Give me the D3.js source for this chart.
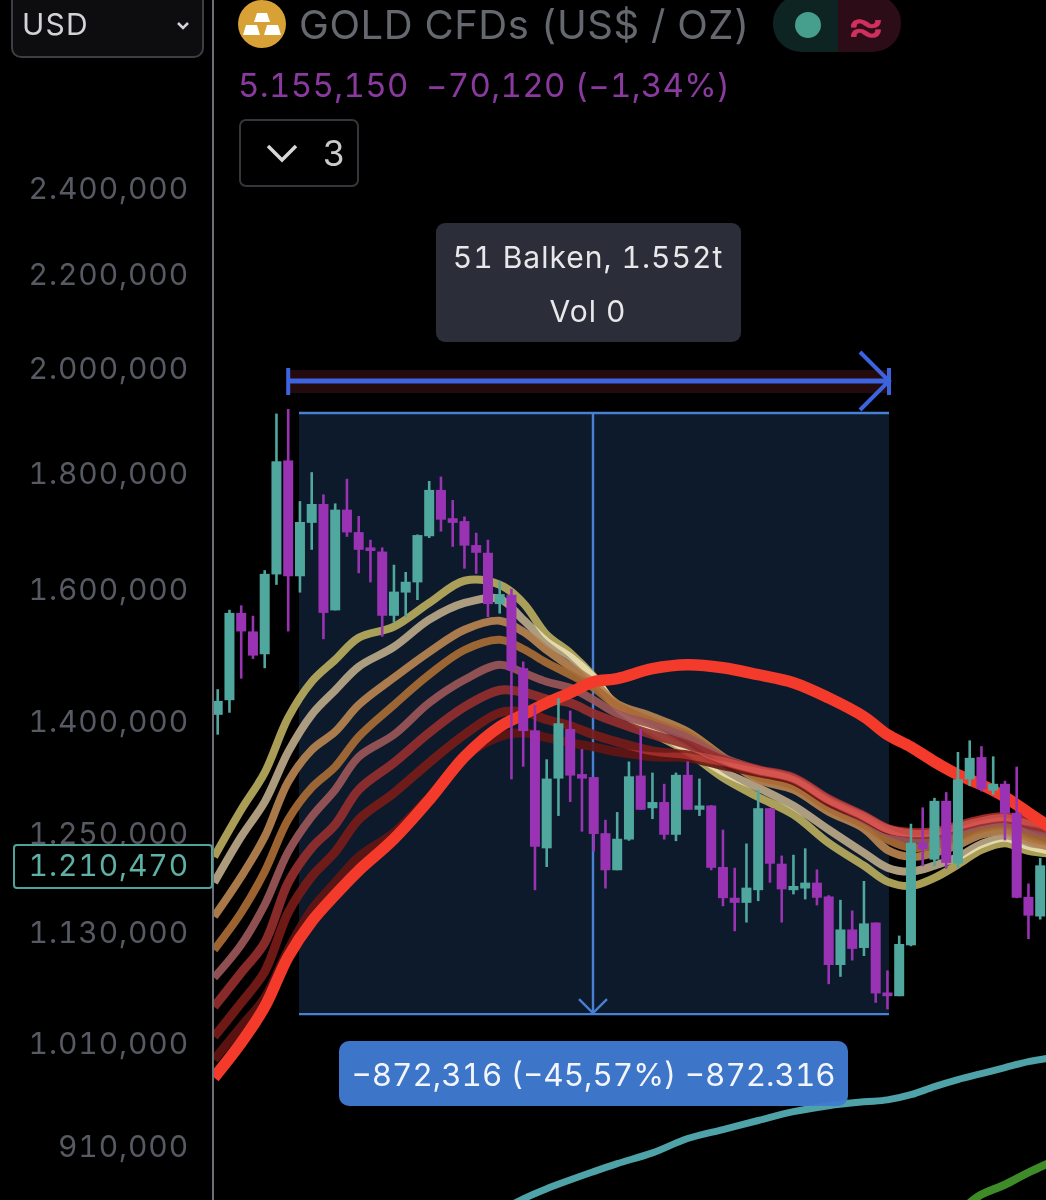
<!DOCTYPE html>
<html><head><meta charset="utf-8">
<script src="https://cdn.jsdelivr.net/npm/d3@7"></script>
<style>
html,body{margin:0;padding:0;background:#000;overflow:hidden}
svg{display:block}
text{font-family:Inter,"Liberation Sans",sans-serif;font-variant-numeric:tabular-nums}
</style></head><body><svg id="c" width="1046" height="1200"></svg>
<script>
// prices in thousands of US$ per "bar"
const tickValues=[2400,2200,2000,1800,1600,1400,1250,1130,1010,910];
const tickLabels=["2.400,000","2.200,000","2.000,000","1.800,000","1.600,000","1.400,000","1.250,000","1.130,000","1.010,000","910,000"];
const opens=[1408,1429,1561,1532,1497,1623,1821.5,1620,1710,1743,1565,1733,1694,1668,1661,1556.5,1593.5,1610,1687,1768,1718,1713,1672,1659,1575,1590,1476,1386,1230,1320,1388,1326,1322,1249,1203,1241,1324,1281,1289,1247,1325,1279,1284.5,1207,1170,1164,1179,1281,1211,1179,1181,1188,1171.5,1093,1133,1112,1141,1063,1059,1115,1237,1216,1290.5,1211,1319,1349,1304,1313,1275,1171,1148];
const closes=[1428,1561,1532,1495,1624,1820,1620,1711.5,1743,1561,1733,1693.5,1664,1662,1556.5,1595,1611,1689,1768,1715.5,1710,1671,1659,1575,1591,1473,1385,1232,1320,1396,1324,1320,1248,1203,1242,1323,1279,1289,1247,1325,1279,1284.5,1206,1169.5,1164,1182,1281,1211,1180,1184,1188,1170,1093,1133,1111,1140,1062,1059,1116.5,1237,1229,1290.5,1212,1319,1348,1306,1313,1274,1170,1149,1209];
const highs=[1445,1566,1573,1556.5,1630,1910,1919,1748,1800,1760,1744,1788,1722,1681,1668,1639,1627,1690,1784,1792,1750,1721,1693,1681,1612,1599.5,1486,1422,1346,1432,1414,1360,1322,1266,1276,1343,1388,1328,1313,1328,1343,1320,1285,1253.5,1206,1236,1305,1281,1221,1222,1230,1204,1173,1167.5,1155,1190,1141,1087,1126,1261,1282,1294.5,1302,1356,1372,1364,1350,1317,1336,1187,1218];
const lows=[1380,1411,1460.5,1490,1476,1606,1532,1593.5,1664,1520,1565,1686,1625,1610,1524,1546,1554.5,1581.5,1684,1695,1669,1632.5,1624,1554.5,1560,1319,1336,1179,1207,1271,1289,1251,1226,1181,1203,1239.5,1279,1267,1241,1239,1279,1271,1203,1160,1131,1141,1166,1188,1141,1174,1168,1161,1072,1080,1098,1103,1052,1045,1059,1114,1208,1208,1205,1206,1310,1303,1298.5,1240,1169.5,1122,1144.5];

const ribbonIndex=[-0.3,2,4,6,8,10,12,15,18,21,24,26,28,30,32,34,37,40,43,46,49,52,55,57,59,61,63,65,67,69,71];
const emaA=[1219.5,1279,1328,1404,1456,1488.7,1522.2,1539.4,1576.8,1612.7,1606.2,1576.8,1526.9,1499,1463.4,1418,1382.8,1356.1,1321.3,1295.6,1272.7,1236.7,1208.6,1189.3,1184,1193.7,1210,1228,1236.5,1226.8,1223.2];
const emaB=[1188.1,1244.6,1289.2,1356.1,1408.2,1443.4,1478.3,1508.2,1550.3,1576.8,1583.1,1550.3,1516,1493.1,1462,1419.4,1387,1358.8,1329.3,1307.9,1284.1,1253.5,1224.4,1206.2,1201.4,1208.6,1219.5,1235.4,1243.3,1232.9,1226.8];
const emaC=[1147.9,1195.3,1244.6,1315.9,1358.8,1384.2,1422.2,1462,1500.5,1534.7,1548.7,1531.6,1503.5,1478.3,1454.5,1423.7,1405.3,1384.2,1349.4,1318.6,1305.2,1276.5,1254.8,1228,1219.5,1224.4,1234,1247.1,1251,1239.5,1230.6];
const emaD=[1109.9,1152.5,1201.4,1266.3,1307.9,1336,1377.2,1422.2,1466.4,1503.5,1519.1,1505,1484.2,1466.4,1447,1420.8,1398.3,1380,1348.1,1322.6,1310.5,1281.5,1259.9,1240.8,1230.6,1234,1243.3,1254.8,1258.6,1247.1,1238.2];
const emaE=[1079.2,1115.7,1161.7,1225.6,1270.1,1305.2,1349.4,1380,1425.1,1458.8,1481.2,1469.4,1456,1447,1429.3,1409.6,1394,1375.9,1348.1,1332,1317.3,1288,1266.3,1249.7,1240.8,1243.3,1251,1259.9,1263.7,1253.5,1245.9];
const emaF=[1047.7,1084.6,1118,1188.1,1230.6,1259.9,1305.2,1341.4,1382.8,1419.4,1443.4,1440.6,1430.7,1425.1,1409.6,1396.9,1380,1365.9,1345.4,1332,1321.3,1293,1271.4,1254.8,1248,1248.4,1256,1263.7,1267.6,1259.9,1253.5];
const emaG=[1016.5,1051.9,1085.7,1152.5,1195.3,1225.6,1266.3,1301,1341.4,1380,1411,1412.4,1401.1,1392.6,1380,1370,1357.5,1352.1,1342.7,1330.7,1320,1291.8,1270.1,1254.8,1250,1251,1258.6,1266.3,1270.1,1263.7,1257.3];
const emaH=[993.1,1026.9,1057.1,1109.9,1156,1188.1,1219.5,1249.7,1295.6,1349.4,1377.2,1382.8,1375.9,1368.7,1363,1356.1,1349.4,1348.1,1337.3,1328,1317.3,1289.2,1268.8,1253.5,1250,1251,1258.6,1266.3,1270.1,1265,1258.6];
const emaSlow=[975.3,1010.3,1047.7,1102.2,1142.2,1173.3,1202.6,1241.8,1291.8,1349.4,1391.2,1408.2,1425.1,1439.7,1456,1460.5,1475.3,1481.2,1476.8,1466.4,1454.5,1432.3,1405.3,1380,1363,1342.7,1325.3,1311.9,1295.6,1275.2,1254.8];
const tealIndex=[25,26,28,32,34,37,40,43,46,49,52,55,57,59,61,63,65,67,69,71];
const tealValues=[857.3,862.6,871.5,886.7,893.9,903.7,916.9,925.3,933.8,942.2,947.9,951.6,953.5,958.5,966.4,973.3,979.2,985.2,991.1,995.1];
const greenIndex=[64,65,67,69,71];
const greenValues=[859.1,866.3,875.1,885.9,895.7];

const warmSeries=[emaA,emaB,emaC,emaD,emaE];
const warmColors=["#b9ab5e","#bba888","#b8834f","#a96b35","#9c5658"];
const redSeries=[emaF,emaG,emaH];
const redColors=["#962f2e","#7a1c18","#631512"];

const measureStart=6.92, measureEnd=57.13, measureTop=1911, measureBottom=1040;

const svg=d3.select("#c");
const x=d3.scaleLinear().domain([0,70]).range([217.7,1040.2]);
const y=d3.scaleLog().domain([2400,910]).range([188,1146]);
const defs=svg.append("defs");
defs.append("clipPath").attr("id","plot").append("rect").attr("x",214).attr("y",0).attr("width",832).attr("height",1200);
const plot=svg.append("g").attr("clip-path","url(#plot)");

// measure band
const mx0=x(measureStart),mx1=x(measureEnd),my0=y(measureTop),my1=y(measureBottom),mid=(mx0+mx1)/2-1;
plot.append("rect").attr("x",mx0).attr("y",my0).attr("width",mx1-mx0).attr("height",my1-my0).attr("fill","#0c1a2c");
[my0,my1].forEach(v=>plot.append("line").attr("x1",mx0).attr("x2",mx1).attr("y1",v).attr("y2",v).attr("stroke","#4a80d2").attr("stroke-width",2.4));
plot.append("line").attr("x1",mid).attr("x2",mid).attr("y1",my0).attr("y2",my1).attr("stroke","#4a80d2").attr("stroke-width",2.4);
plot.append("path").attr("d",d3.line()([[mid-14,my1-15],[mid,my1-1],[mid+14,my1-15]])).attr("fill","none").attr("stroke","#4a80d2").attr("stroke-width",2.4);

// lines
const line=(idx)=>d3.line().x((d,i)=>x(idx[i])).y(d=>y(d)).curve(d3.curveCatmullRom.alpha(0.5));
plot.append("path").attr("d",line(tealIndex)(tealValues)).attr("fill","none").attr("stroke","#4fa3a8").attr("stroke-width",7);
plot.append("path").attr("d",line(greenIndex)(greenValues)).attr("fill","none").attr("stroke","#3e8c28").attr("stroke-width",8);
const warm=plot.append("g").style("isolation","isolate");
warmSeries.forEach((s,k)=>{
  const p=warm.append("path").attr("d",line(ribbonIndex)(s)).attr("fill","none").attr("stroke",warmColors[k]).attr("stroke-width",8).attr("stroke-opacity",0.92);
  if(k===1) p.style("mix-blend-mode","screen");
});
const reds=plot.append("g").style("isolation","isolate").attr("opacity",0.9);
redSeries.forEach((s,k)=>{
  reds.append("path").attr("d",line(ribbonIndex)(s)).attr("fill","none").attr("stroke",redColors[k]).attr("stroke-width",9).style("mix-blend-mode","screen");
});
plot.append("path").attr("d",line(ribbonIndex)(emaSlow)).attr("fill","none").attr("stroke","#f43a2b").attr("stroke-width",11.5);

// candles
const upColor="#50a79e",downColor="#9a33b3";
const candles=plot.append("g").selectAll("g").data(opens.map((o,i)=>({i,o,c:closes[i],h:highs[i],l:lows[i]}))).join("g");
candles.append("line").attr("x1",d=>x(d.i)).attr("x2",d=>x(d.i)).attr("y1",d=>y(d.h)).attr("y2",d=>y(d.l))
  .attr("stroke",d=>d.c>=d.o?upColor:downColor).attr("stroke-width",2.6);
candles.append("rect").attr("x",d=>x(d.i)-5).attr("width",10)
  .attr("y",d=>y(Math.max(d.o,d.c))).attr("height",d=>Math.max(2,y(Math.min(d.o,d.c))-y(Math.max(d.o,d.c))))
  .attr("fill",d=>d.c>=d.o?upColor:downColor);

// price axis
const axis=d3.axisLeft(y).tickValues(tickValues).tickSize(0).tickPadding(0).tickFormat((d,i)=>tickLabels[i]);
const ag=svg.append("g").attr("transform","translate(189,0)").call(axis);
ag.select(".domain").remove();
ag.selectAll("text").attr("fill","#575a63").attr("font-size",30).style("font-family","Inter").attr("letter-spacing","0.9").attr("dy","0.36em");
svg.append("line").attr("x1",213).attr("x2",213).attr("y1",0).attr("y2",1200).attr("stroke","#6d6f78").attr("stroke-width",2);

// last price tag
svg.append("rect").attr("x",14).attr("y",845).attr("width",198).attr("height",43).attr("rx",3).attr("fill","#000").attr("stroke","#4fa39a").attr("stroke-width",2);
svg.append("text").attr("x",189).attr("y",876).attr("text-anchor","end").attr("fill","#5fb0a5").attr("font-size",30).attr("letter-spacing","0.9").text("1.210,470");

// header
svg.append("rect").attr("x",12).attr("y",-12).attr("width",191).attr("height",69).attr("rx",9).attr("fill","#0d0d0f").attr("stroke","#3c3e44").attr("stroke-width",2);
svg.append("text").attr("x",22).attr("y",35).attr("fill","#d2d3d6").attr("font-size",30).attr("letter-spacing","1.2").text("USD");
svg.append("path").attr("d","M178 23l5 5 5-5").attr("fill","none").attr("stroke","#d2d3d6").attr("stroke-width",2.5);
svg.append("circle").attr("cx",262).attr("cy",24).attr("r",24).attr("fill","#d8a136");
svg.append("path").attr("d","M257 13h10l3 9h-16zM246 25h11l3 10h-17zM267 25h11l3 10h-17z").attr("fill","#fff");
svg.append("text").attr("x",299).attr("y",39).attr("fill","#66686f").attr("font-size",40).attr("letter-spacing","0.55").text("GOLD CFDs (US$ / OZ)");
svg.append("path").attr("d","M838 -5H801a28 28 0 0 0 -28 28v1a28 28 0 0 0 28 28H838z").attr("fill","#0d2422");
svg.append("path").attr("d","M838 -5H873a28 28 0 0 1 28 28v1a28 28 0 0 1 -28 28H838z").attr("fill","#2c0c16");
svg.append("circle").attr("cx",808).attr("cy",25).attr("r",13).attr("fill","#469e8c");
svg.append("text").attr("transform","translate(866,41) scale(1.33,1)").attr("text-anchor","middle").attr("fill","#d1305f").attr("stroke","#d1305f").attr("stroke-width",0.6).attr("font-size",44).text("≈");
svg.append("text").attr("x",238).attr("y",97).attr("fill","#8a3a9e").attr("font-size",33).attr("letter-spacing","0.35").text("5.155,150");
svg.append("text").attr("x",426).attr("y",97).attr("fill","#8a3a9e").attr("font-size",33).attr("letter-spacing","0.35").text("−70,120 (−1,34%)");
svg.append("rect").attr("x",240).attr("y",120).attr("width",118).attr("height",66).attr("rx",6).attr("fill","#000").attr("stroke","#34363c").attr("stroke-width",2);
svg.append("path").attr("d","M268 146l14 14 14-14").attr("fill","none").attr("stroke","#d6d7d9").attr("stroke-width",3.5);
svg.append("text").attr("x",334).attr("y",166).attr("text-anchor","middle").attr("fill","#c9cacc").attr("font-size",35).text("3");

// tooltip
svg.append("rect").attr("x",436).attr("y",223).attr("width",305).attr("height",119).attr("rx",9).attr("fill","#2b2e39");
svg.append("text").attr("x",588).attr("y",268).attr("text-anchor","middle").attr("fill","#e8e8ea").attr("font-size",30).attr("letter-spacing","1").text("51 Balken, 1.552t");
svg.append("text").attr("x",588).attr("y",322).attr("text-anchor","middle").attr("fill","#e8e8ea").attr("font-size",30).attr("letter-spacing","1").text("Vol 0");

// bar-count ruler
const rx0=x(6),rx1=889;
svg.append("rect").attr("x",rx0).attr("y",370).attr("width",rx1-rx0).attr("height",23).attr("fill","#230a0d");
svg.append("line").attr("x1",rx0).attr("x2",rx1).attr("y1",381).attr("y2",381).attr("stroke","#3d63e0").attr("stroke-width",5);
svg.append("line").attr("x1",rx0).attr("x2",rx0).attr("y1",368).attr("y2",395).attr("stroke","#3d63e0").attr("stroke-width",4);
svg.append("line").attr("x1",rx1).attr("x2",rx1).attr("y1",368).attr("y2",395).attr("stroke","#3d63e0").attr("stroke-width",4);
svg.append("path").attr("d",d3.line()([[860,352],[rx1,381],[860,410]])).attr("fill","none").attr("stroke","#3d63e0").attr("stroke-width",4);

// measure label
svg.append("rect").attr("x",339).attr("y",1041).attr("width",509).attr("height",65).attr("rx",10).attr("fill","#3f7ad0").attr("fill-opacity",0.96);
svg.append("text").attr("x",593.5).attr("y",1086).attr("text-anchor","middle").attr("fill","#f2f5fb").attr("font-size",31.4).text("−872,316 (−45,57%) −872.316");
</script></body></html>
